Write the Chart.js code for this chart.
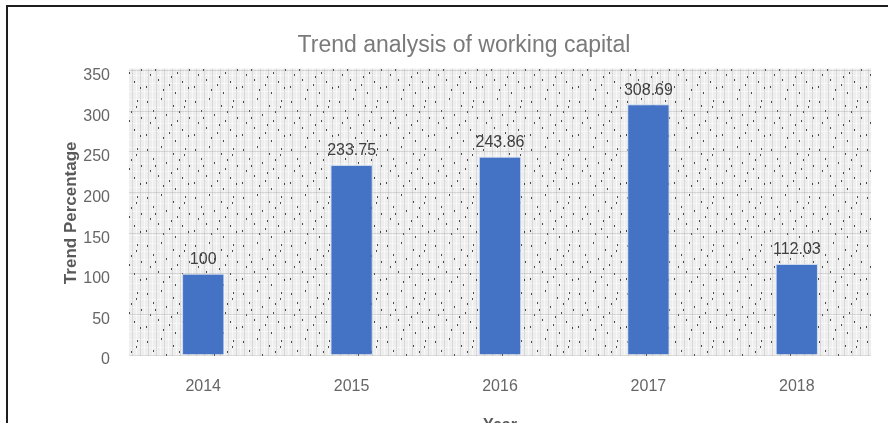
<!DOCTYPE html>
<html>
<head>
<meta charset="utf-8">
<script src="https://cdn.jsdelivr.net/npm/chart.js@4.4.0/dist/chart.umd.min.js"></script>
<style>
  html, body { margin: 0; padding: 0; background: #ffffff; overflow: hidden; }
  #wrap { position: relative; width: 888px; height: 423px; overflow: hidden; background: #fff; }
  #frame { position: absolute; left: 6px; top: 5px; width: 900px; height: 500px;
           border-left: 2px solid #1e1e1e; border-top: 2px solid #1e1e1e; pointer-events: none; }
  #c { position: absolute; left: 0; top: 0; }
</style>
</head>
<body>
<div id="wrap">
  <canvas id="c" width="888" height="445"></canvas>
  <div id="frame"></div>
</div>
<script>
// ---- data ----
const years = ['2014', '2015', '2016', '2017', '2018'];
const trendValues = [100, 233.75, 243.86, 308.69, 112.03];
const valueLabels = ['100', '233.75', '243.86', '308.69', '112.03'];
const yMin = 0;
const yMax = 350;
const yStep = 50;
const chartTitle = 'Trend analysis of working capital';
const yTitle = 'Trend Percentage';
const xTitle = 'Year';

// ---- textured plot background (fixed, hand-placed specks) ----
function makePattern(ctx) {
  const t = document.createElement('canvas');
  t.width = 48; t.height = 48;
  const g = t.getContext('2d');
  g.fillStyle = '#eeeeee';
  g.fillRect(0, 0, 48, 48);
  g.fillStyle = '#f8f8f8';
  for (let i = 0; i < 48; i += 8) { g.fillRect(i, 0, 1, 48); g.fillRect(0, i + 3, 48, 1); }
  g.fillStyle = '#d9d9d9';
  for (let i = 4; i < 48; i += 8) { g.fillRect(i, 0, 1, 48); }
  const specks = [[3,5],[17,2],[29,9],[41,4],[9,14],[22,18],[35,15],[45,21],
                  [6,26],[14,31],[27,28],[38,33],[2,38],[19,41],[31,44],[44,39],
                  [11,21],[25,36],[40,10],[33,24]];
  g.fillStyle = '#4a4a4a';
  specks.forEach(([x, y]) => g.fillRect(x, y, 1, 2));
  return ctx.createPattern(t, 'repeat');
}

const plotBackground = {
  id: 'plotBackground',
  beforeDraw(chart) {
    const { ctx, chartArea: a } = chart;
    ctx.save();
    ctx.fillStyle = makePattern(ctx);
    ctx.fillRect(a.left, a.top - 2, a.right - a.left, a.bottom - a.top + 3);
    ctx.restore();
  }
};

const barLabels = {
  id: 'barLabels',
  afterDatasetsDraw(chart) {
    const { ctx } = chart;
    const meta = chart.getDatasetMeta(0);
    ctx.save();
    ctx.font = '16px "Liberation Sans", Arial, sans-serif';
    ctx.fillStyle = '#404040';
    ctx.textAlign = 'center';
    ctx.textBaseline = 'bottom';
    meta.data.forEach((bar, i) => {
      ctx.fillText(valueLabels[i], bar.x, bar.y - 6);
    });
    ctx.restore();
  }
};

const PAD_LEFT = 57;
const PLOT_LEFT = 129;
const PLOT_BOTTOM = 355;
const CANVAS_H = 445;

new Chart(document.getElementById('c'), {
  type: 'bar',
  data: {
    labels: years,
    datasets: [{
      data: trendValues,
      backgroundColor: '#4472C4',
      borderColor: '#c9daf0',
      borderWidth: { left: 1, right: 1, top: 1, bottom: 0 },
      categoryPercentage: 1.0,
      barPercentage: 0.285
    }]
  },
  options: {
    responsive: false,
    animation: false,
    devicePixelRatio: 1,
    layout: { padding: { left: PAD_LEFT, right: 17, top: 32, bottom: 0 } },
    plugins: {
      legend: { display: false },
      tooltip: { enabled: false },
      title: {
        display: true,
        text: chartTitle,
        color: '#7a7a7a',
        font: { family: '"Liberation Sans", Arial, sans-serif', size: 23, weight: 'normal' },
        padding: { top: 0, bottom: 11 }
      }
    },
    scales: {
      x: {
        grid: { display: false },
        border: { display: false },
        ticks: {
          color: '#666666',
          padding: 14,
          font: { family: '"Liberation Sans", Arial, sans-serif', size: 16 }
        },
        title: {
          display: true,
          text: xTitle,
          color: '#595959',
          font: { family: '"Liberation Sans", Arial, sans-serif', size: 16, weight: 'bold' },
          padding: { top: 4, bottom: 10 }
        },
        afterFit(scale) { scale.height = CANVAS_H - PLOT_BOTTOM; }
      },
      y: {
        min: yMin,
        max: yMax,
        grid: { color: 'rgba(150,150,150,0.3)', drawTicks: false },
        border: { display: false },
        ticks: {
          stepSize: yStep,
          color: '#666666',
          padding: 19,
          labelOffset: 5,
          font: { family: '"Liberation Sans", Arial, sans-serif', size: 16 }
        },
        title: {
          display: true,
          text: yTitle,
          color: '#595959',
          font: { family: '"Liberation Sans", Arial, sans-serif', size: 17, weight: 'bold' },
          padding: { top: 4, bottom: 4 }
        },
        afterFit(scale) { scale.width = PLOT_LEFT - PAD_LEFT; }
      }
    }
  },
  plugins: [plotBackground, barLabels]
});
</script>
</body>
</html>
